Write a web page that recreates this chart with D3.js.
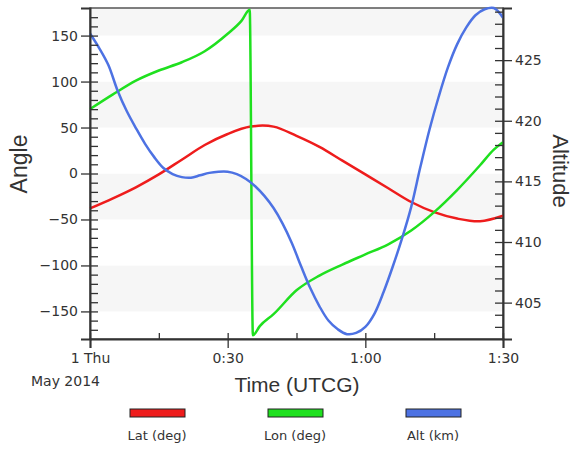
<!DOCTYPE html>
<html>
<head>
<meta charset="utf-8">
<script src="https://cdn.jsdelivr.net/npm/d3@7"></script>
<style>
  body { margin: 0; background: #fff; }
  svg { display: block; }
  .tick text { font-family: "DejaVu Sans", sans-serif; font-size: 14px; fill: #333; }
  .tick line { stroke: #333; stroke-width: 1.3; }
  .domain { stroke: #333; stroke-width: 2; }
</style>
</head>
<body>
<script>
// Screen dimensions.
const WIDTH = 575;
const HEIGHT = 449;

// Data (time in minutes after 0:00 UTCG, 1 May 2014).
const latTime = [0, 5, 10, 15, 20, 25, 30, 35, 40, 45, 50, 55, 60, 65, 70, 75, 80, 85, 90];
const latDeg  = [-38, -27, -15, -1, 15, 31, 43, 51, 51, 41, 29, 14, -1, -16, -31, -42, -49, -52, -46];

const lonTime = [0, 5, 10, 15, 20, 25, 30, 33, 34.8, 35.5, 37, 40, 45, 50, 55, 60, 65, 70, 75, 80, 85, 88, 90];
const lonDeg  = [70, 86, 101, 112, 121, 133, 152, 166, 178, -176, -166, -153, -127, -111, -99, -88, -77, -62, -42, -18, 9, 26, 34];

const altTime = [0, 2, 4, 6, 8, 10, 12, 14, 16, 18, 20, 22, 24, 26, 28, 30, 32, 34, 36, 38, 40, 42, 44, 46,
                 48, 50, 52, 54, 56, 58, 60, 62, 64, 66, 68, 70, 72, 74, 76, 78, 80, 82, 84, 86, 88, 90];
const altKm   = [427.2, 426.0, 424.6, 422.5, 420.8, 419.4, 418.1, 417.0, 416.1, 415.6, 415.35, 415.3, 415.5, 415.7,
                 415.8, 415.8, 415.6, 415.2, 414.6, 413.8, 412.8, 411.5, 409.9, 408.0, 406.2, 404.7, 403.5, 402.8,
                 402.4, 402.5, 403.0, 404.1, 405.9, 408.0, 410.3, 412.9, 416.2, 419.3, 422.0, 424.4, 426.3, 427.7,
                 428.7, 429.2, 429.3, 428.5];

// Ticks and labels.
const angleTicks = [-150, -100, -50, 0, 50, 100, 150];
const altTicks = [405, 410, 415, 420, 425];
const timeTicks = [0, 30, 60, 90];
const timeLabels = ["1 Thu", "0:30", "1:00", "1:30"];

// Legend.
const seriesNames = ["Lat (deg)", "Lon (deg)", "Alt (km)"];
const seriesColors = ["#ee1c1c", "#1fe01f", "#4d72e3"];

// Plot area.
const LEFT = 90, RIGHT = 503, TOP = 8, BOTTOM = 339;

const svg = d3.select("body").append("svg").attr("width", WIDTH).attr("height", HEIGHT);

const x = d3.scaleLinear().domain([0, 90]).range([LEFT, RIGHT]);
const yL = d3.scaleLinear().domain([-180, 180]).range([BOTTOM, TOP]);
const yR = d3.scaleLinear().domain([402, 429.3]).range([BOTTOM, TOP]);

// Alternating background bands between the major angle ticks.
const bandEdges = [-180].concat(angleTicks, [180]);
svg.append("g").selectAll("rect")
  .data(d3.range(bandEdges.length - 1))
  .enter().append("rect")
  .attr("x", LEFT)
  .attr("width", RIGHT - LEFT)
  .attr("y", i => yL(bandEdges[i + 1]))
  .attr("height", i => yL(bandEdges[i]) - yL(bandEdges[i + 1]))
  .attr("fill", i => (i % 2 === 1) ? "#f6f6f6" : "#fff");

// Frame
svg.append("rect")
  .attr("x", LEFT).attr("y", TOP)
  .attr("width", RIGHT - LEFT).attr("height", BOTTOM - TOP)
  .attr("fill", "none").attr("stroke", "#555").attr("stroke-width", 1.5);

// Lines
const lineL = d3.line().x(d => x(d[0])).y(d => yL(d[1])).curve(d3.curveCatmullRom.alpha(0.5));
const lineLon = d3.line().x(d => x(d[0])).y(d => yL(d[1])).curve(d3.curveMonotoneX);
const lineR = d3.line().x(d => x(d[0])).y(d => yR(d[1])).curve(d3.curveCatmullRom.alpha(0.5));

const plot = svg.append("g");
plot.append("path").datum(latTime.map((t, i) => [t, latDeg[i]]))
  .attr("d", lineL).attr("fill", "none").attr("stroke", seriesColors[0]).attr("stroke-width", 2.5);
plot.append("path").datum(lonTime.map((t, i) => [t, lonDeg[i]]))
  .attr("d", lineLon).attr("fill", "none").attr("stroke", seriesColors[1]).attr("stroke-width", 2.5);
plot.append("path").datum(altTime.map((t, i) => [t, altKm[i]]))
  .attr("d", lineR).attr("fill", "none").attr("stroke", seriesColors[2]).attr("stroke-width", 2.5);

// Left axis: major ticks outside with labels, all ticks inside.
svg.append("g").attr("transform", `translate(${LEFT},0)`)
  .call(d3.axisLeft(yL).tickValues(angleTicks).tickSize(9).tickPadding(3));
svg.append("g").attr("transform", `translate(${LEFT},0)`)
  .call(d3.axisRight(yL).tickValues(d3.range(-170, 180, 10)).tickSize(8).tickFormat(""))
  .select(".domain").remove();

// Right axis
svg.append("g").attr("transform", `translate(${RIGHT},0)`)
  .call(d3.axisRight(yR).tickValues(altTicks).tickSize(9).tickPadding(3));
svg.append("g").attr("transform", `translate(${RIGHT},0)`)
  .call(d3.axisLeft(yR).tickValues(d3.range(403, 430, 1)).tickSize(8).tickFormat(""))
  .select(".domain").remove();

// Bottom axis
svg.append("g").attr("transform", `translate(0,${BOTTOM})`)
  .call(d3.axisBottom(x).tickValues(timeTicks).tickSize(9).tickPadding(5)
    .tickFormat((d, i) => timeLabels[i]));
svg.append("g").attr("transform", `translate(0,${BOTTOM})`)
  .call(d3.axisTop(x).tickValues(d3.range(0, 91, 15)).tickSize(6).tickFormat(""))
  .select(".domain").remove();

// Date under first tick
svg.append("text")
  .attr("x", 100).attr("y", 386)
  .attr("text-anchor", "end")
  .style("font-family", "DejaVu Sans, sans-serif").style("font-size", "14px").style("fill", "#333")
  .text("May 2014");

// Axis titles
const titleFont = "Liberation Sans, Arial, sans-serif";
svg.append("text")
  .attr("transform", "translate(27,164) rotate(-90)")
  .attr("text-anchor", "middle")
  .style("font-family", titleFont).style("font-size", "23px").style("fill", "#333")
  .text("Angle");
svg.append("text")
  .attr("transform", "translate(553,171) rotate(90)")
  .attr("text-anchor", "middle")
  .style("font-family", titleFont).style("font-size", "22px").style("fill", "#333")
  .text("Altitude");
svg.append("text")
  .attr("x", 297).attr("y", 392)
  .attr("text-anchor", "middle")
  .style("font-family", titleFont).style("font-size", "21px").style("fill", "#333")
  .text("Time (UTCG)");

// Legend
const legendX = d3.scalePoint().domain(seriesNames).range([157, 433]);
const legend = svg.append("g").selectAll("g").data(seriesNames).enter().append("g")
  .attr("transform", d => `translate(${legendX(d)},0)`);
legend.append("rect")
  .attr("x", -27).attr("y", 409).attr("width", 55).attr("height", 8)
  .attr("fill", (d, i) => seriesColors[i]).attr("stroke", "#222").attr("stroke-width", 1);
legend.append("text")
  .attr("y", 440).attr("text-anchor", "middle")
  .style("font-family", "DejaVu Sans, sans-serif").style("font-size", "13px").style("fill", "#333")
  .text(d => d);
</script>
</body>
</html>
